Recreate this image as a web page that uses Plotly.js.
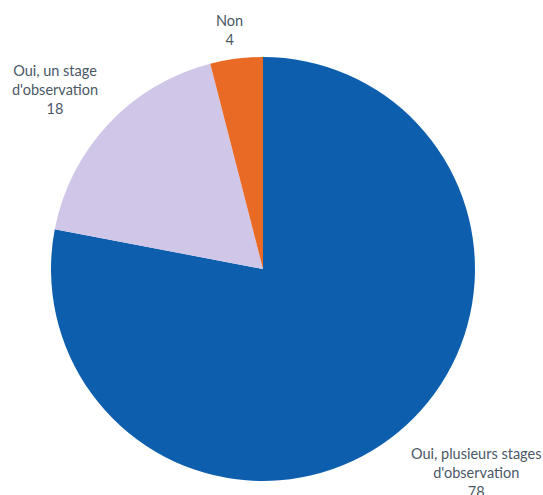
<!DOCTYPE html>
<html><head><meta charset="utf-8">
<script src="https://cdn.plot.ly/plotly-3.0.1.min.js"></script>
<style>html,body{margin:0;padding:0;background:#fff}#chart{width:543px;height:495px}</style>
</head><body><div id="chart"></div>
<script>
const categories = ["Oui, plusieurs stages<br>d'observation", "Oui, un stage<br>d'observation", "Non"];
const values = [78, 18, 4];
const colors = ["#0d5fae", "#d0c6e8", "#e96a25"];
// label anchor positions in pixels (x center, y center of text block)
const labelPos = [[476, 472], [55, 89], [229, 30]];

const W = 543, H = 495;
const cx = 263, cy = 269, r = 212;

const annotations = categories.map((c, i) => ({
  text: c + "<br>" + values[i],
  x: labelPos[i][0] / W, y: 1 - labelPos[i][1] / H,
  xref: "paper", yref: "paper", xanchor: "center", yanchor: "middle",
  showarrow: false, align: "center",
  font: {family: "Lato, 'Open Sans', sans-serif", size: 14.5, color: "#4b5866"}
}));

Plotly.newPlot("chart", [{
  type: "pie",
  labels: categories.map(c => c.replace("<br>", " ")),
  values: values,
  marker: {colors: colors, line: {width: 0}},
  sort: false,
  direction: "clockwise",
  rotation: 0,
  textinfo: "none",
  hoverinfo: "none",
  domain: {x: [(cx - r) / W, (cx + r) / W], y: [1 - (cy + r) / H, 1 - (cy - r) / H]}
}], {
  width: W, height: H,
  margin: {l: 0, r: 0, t: 0, b: 0},
  showlegend: false,
  paper_bgcolor: "#ffffff",
  annotations: annotations
}, {staticPlot: true});
</script></body></html>
